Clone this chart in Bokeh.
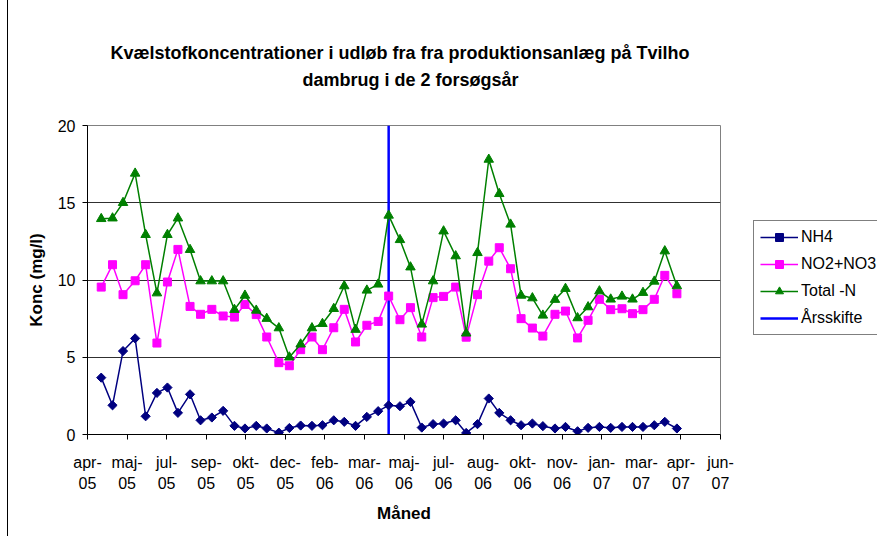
import math
from bokeh.plotting import figure
from bokeh.layouts import column
from bokeh.core.properties import value
from bokeh.models import Range1d, FixedTicker, Legend, LegendItem
from bokeh.embed import file_html
from bokeh.resources import INLINE

# sample day offsets from axis start (~18 Apr 2005)
days = [17, 31, 44, 59, 72, 86, 99, 112, 127, 140, 154, 168, 182, 195, 209, 222,
        237, 250, 264, 278, 291, 305, 318, 332, 346, 360, 373, 387, 400, 414, 428,
        441, 456, 469, 483, 497, 510, 524, 537, 551, 564, 579, 592, 607, 620, 634,
        648, 662, 675, 688, 702, 715, 730]

nh4 = [3.68, 1.89, 5.4, 6.22, 1.18, 2.69, 3.04, 1.4, 2.6, 0.92, 1.1, 1.53, 0.56,
       0.39, 0.56, 0.39, 0.12, 0.42, 0.58, 0.56, 0.6, 0.92, 0.82, 0.56, 1.14, 1.51,
       1.89, 1.83, 2.11, 0.45, 0.67, 0.71, 0.92, 0.1, 0.67, 2.33, 1.4, 0.92, 0.6,
       0.71, 0.54, 0.39, 0.49, 0.21, 0.43, 0.49, 0.43, 0.49, 0.49, 0.49, 0.6, 0.82,
       0.39]

no3 = [9.54, 10.99, 9.05, 9.95, 10.99, 5.92, 9.87, 11.98, 8.29, 7.78, 8.1, 7.67,
       7.6, 8.42, 7.76, 6.31, 4.65, 4.45, 5.49, 6.31, 5.49, 6.91, 8.1, 5.99, 7.07,
       7.32, 8.96, 7.43, 8.21, 6.31, 8.86, 8.94, 9.54, 6.3, 9.05, 11.22, 12.09,
       10.73, 7.5, 6.89, 6.37, 7.78, 7.99, 6.25, 7.39, 8.75, 8.08, 8.14, 7.82, 8.08,
       8.75, 10.3, 9.11]

total_n = [13.96, 14.0, 15.0, 16.9, 12.93, 9.15, 12.93, 14.0, 11.96, 9.93, 9.93,
           9.93, 8.08, 9.0, 8.03, 7.5, 6.89, 5.0, 5.84, 6.89, 7.17, 8.14, 9.61, 6.79,
           9.33, 9.72, 14.18, 12.6, 10.83, 7.13, 9.93, 13.16, 11.55, 6.55, 11.76,
           17.8, 15.58, 13.6, 9.0, 8.83, 7.71, 8.73, 9.44, 7.54, 8.25, 9.28, 8.75,
           8.94, 8.75, 9.18, 9.91, 11.87, 9.61]

# year change marker
aarsskifte_x = [373, 373]
aarsskifte_y = [0, 20]

tick_days = [0, 49, 98, 147, 196, 245, 294, 343, 392, 441, 490, 539, 588, 637,
             686, 735, 784]
tick_labels = ["apr-05", "maj-05", "jul-05", "sep-05", "okt-05", "dec-05",
               "feb-06", "mar-06", "maj-06", "jul-06", "aug-06", "okt-06",
               "nov-06", "jan-07", "mar-07", "apr-07", "jun-07"]
y_ticks = [0, 5, 10, 15, 20]

title_lines = ["Kvælstofkoncentrationer i udløb fra  fra produktionsanlæg på Tvilho",
               "dambrug i de 2 forsøgsår"]

FONT = "Liberation Sans"

# ---- title strip (same borders as the chart, so frames line up; x in page pixels) ----
tfig = figure(frame_width=633, frame_height=90,
              min_border_left=79, min_border_right=157,
              min_border_top=0, min_border_bottom=0,
              x_range=Range1d(87, 720), y_range=Range1d(90, 0),
              x_axis_type=None, y_axis_type=None,
              toolbar_location=None, output_backend="svg",
              background_fill_color="white", border_fill_color="white")
tfig.outline_line_color = None
tfig.xgrid.visible = False
tfig.ygrid.visible = False
tfig.text(x=[402, 410], y=[52, 79], text=title_lines,
          text_align="center", text_baseline="middle",
          text_font=value(FONT), text_font_size="18px", text_font_style="bold",
          text_color="black")

# ---- main chart ----
p = figure(frame_width=633, frame_height=309,
           min_border_left=79, min_border_right=157,
           min_border_top=35, min_border_bottom=102,
           x_range=Range1d(0, 784), y_range=Range1d(0, 20),
           output_backend="svg", toolbar_location=None,
           background_fill_color="white", border_fill_color="white")

p.outline_line_color = "#808080"
p.xgrid.grid_line_color = None
p.ygrid.grid_line_color = "#303030"
p.ygrid.grid_line_width = 1

p.xaxis.ticker = FixedTicker(ticks=tick_days)
p.xaxis.major_label_overrides = {t: lab.replace("-", "-\n") for t, lab in zip(tick_days, tick_labels)}
p.yaxis.ticker = FixedTicker(ticks=y_ticks)
for ax in (p.xaxis[0], p.yaxis[0]):
    ax.axis_line_color = "black"
    ax.major_tick_line_color = "black"
    ax.major_tick_out = 5
    ax.major_tick_in = 0
    ax.minor_tick_line_color = None
    ax.major_label_text_font = FONT
    ax.major_label_text_font_size = "16px"
    ax.major_label_text_color = "black"
    ax.axis_label_text_font = FONT
    ax.axis_label_text_font_size = "17px"
    ax.axis_label_text_font_style = "bold"
    ax.axis_label_text_color = "black"

p.xaxis.major_label_text_line_height = 1.25
p.xaxis.major_label_standoff = 14
p.xaxis.axis_label = "Måned"
p.xaxis.axis_label_standoff = 9
p.yaxis.major_label_standoff = 7
p.yaxis.axis_label = "Konc (mg/l)"
p.yaxis.axis_label_standoff = 9

# series
yr = p.line(aarsskifte_x, aarsskifte_y, color="#0000FF", line_width=2.5)

nh4_l = p.line(days, nh4, color="#000080", line_width=1.5)
nh4_m = p.scatter(days, nh4, marker="square", angle=math.pi / 4, size=6.5,
                  color="#000080")
no3_l = p.line(days, no3, color="#FF00FF", line_width=1.5)
no3_m = p.scatter(days, no3, marker="square", size=8, color="#FF00FF")
tn_l = p.line(days, total_n, color="#008000", line_width=1.5)
tn_m = p.scatter(days, total_n, marker="triangle", size=9.5, color="#008000")

legend = Legend(items=[
    LegendItem(label="NH4", renderers=[nh4_l, nh4_m]),
    LegendItem(label="NO2+NO3", renderers=[no3_l, no3_m]),
    LegendItem(label="Total -N", renderers=[tn_l, tn_m]),
    LegendItem(label="Årsskifte", renderers=[yr]),
], location=(33, 99))
legend.border_line_color = "black"
legend.border_line_width = 1
legend.background_fill_color = "white"
legend.background_fill_alpha = 1
legend.padding = 6
legend.margin = 0
legend.spacing = 7
legend.glyph_width = 38
legend.glyph_height = 20
legend.label_height = 20
legend.label_standoff = 3
legend.label_width = 90
legend.label_text_font = FONT
legend.label_text_font_size = "16px"
legend.label_text_color = "black"
p.add_layout(legend, "right")

layout = column(tfig, p, spacing=0,
                styles={"border-left": "1px solid #000000", "margin-left": "7px"})

open("out.html", "w").write(file_html(layout, INLINE))
